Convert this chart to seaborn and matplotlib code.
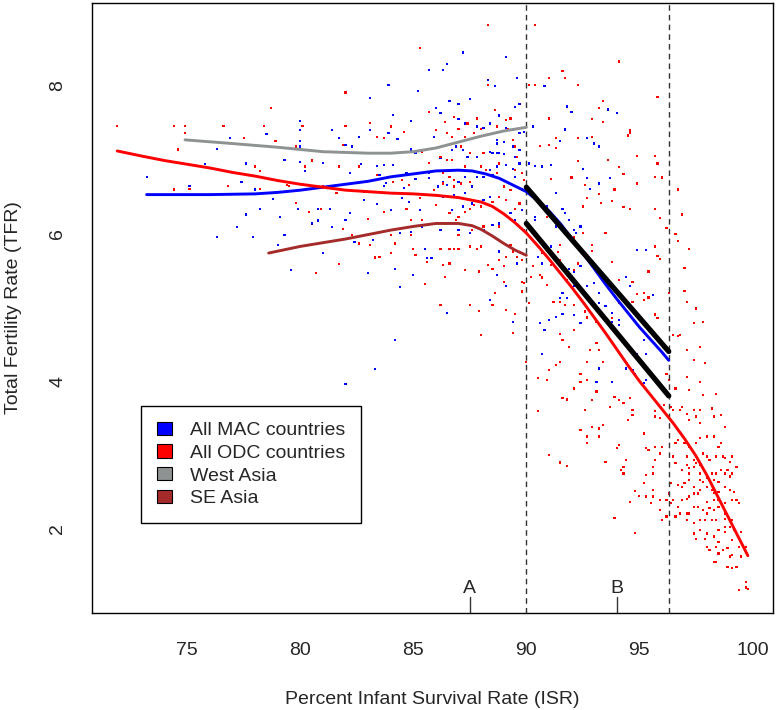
import pandas as pd
import matplotlib
matplotlib.use("Agg")
import matplotlib.pyplot as plt
from matplotlib.patches import Patch
import seaborn as sns

sns.set_style("white")
plt.rcParams['font.family'] = ['Liberation Sans', 'DejaVu Sans']

mac_points = [
    (73.2, 6.76), (75.1, 6.64), (75.8, 6.93), (76.3, 7.14), (76.3, 5.95), (76.9, 7.29), (77.2, 6.08),
    (77.4, 6.69), (77.6, 6.94), (77.6, 6.25), (77.9, 5.95), (78.0, 6.59), (78.2, 6.33), (78.5, 7.34),
    (78.8, 6.46), (79.0, 5.84), (79.1, 6.22), (79.3, 6.99), (79.3, 5.97), (79.6, 5.50), (79.9, 6.33),
    (80.0, 7.52), (80.0, 7.39), (80.0, 7.24), (80.0, 7.17), (80.0, 6.96), (80.2, 6.84), (80.5, 6.13),
    (80.8, 6.33), (80.8, 6.17), (81.0, 5.73), (81.0, 6.95), (81.3, 6.33), (81.4, 7.39), (81.4, 6.08),
    (81.7, 7.29), (82.0, 7.19), (82.0, 6.18), (82.2, 6.81), (82.2, 6.27), (82.3, 7.17), (82.4, 5.88),
    (82.6, 7.30), (82.7, 6.93), (82.8, 6.45), (83.0, 5.46), (83.1, 7.83), (83.1, 7.39), (83.2, 5.91),
    (83.4, 6.91), (83.4, 6.39), (83.5, 6.78), (83.7, 6.92), (83.7, 6.64), (83.8, 6.68), (83.9, 8.00),
    (83.9, 7.35), (84.0, 6.31), (84.1, 7.60), (84.1, 6.92), (84.2, 5.51), (84.3, 7.27), (84.4, 5.27),
    (84.4, 6.00), (84.5, 6.47), (84.6, 6.61), (84.7, 6.81), (84.8, 6.42), (84.9, 7.51), (84.9, 7.13),
    (84.9, 6.02), (85.0, 5.43), (85.1, 6.73), (85.1, 7.08), (85.2, 7.92), (85.3, 6.31), (85.4, 6.09),
    (85.5, 5.79), (85.6, 5.66), (85.7, 6.81), (85.7, 8.20), (85.7, 6.74), (85.8, 5.66), (85.9, 7.30),
    (86.0, 7.69), (86.1, 6.63), (82.0, 3.96), (83.3, 4.16), (84.2, 4.55),
    (86.3, 8.20), (86.5, 8.28), (87.2, 8.44), (89.1, 8.38), (88.3, 8.07), (88.6, 7.99), (89.6, 8.10),
    (89.7, 7.75), (89.5, 7.70), (87.5, 7.81), (87.0, 7.74), (86.6, 7.78), (86.2, 7.62), (86.8, 7.57),
    (87.0, 7.54), (87.3, 7.48), (87.8, 7.44), (88.1, 7.42), (88.4, 7.48), (88.8, 7.59), (89.1, 7.42),
    (89.4, 7.39), (89.7, 7.35), (89.9, 7.37), (88.7, 7.26), (88.7, 7.21), (89.0, 7.23), (89.4, 7.17),
    (89.7, 7.12), (89.5, 7.03), (89.7, 6.94), (88.5, 7.08), (88.7, 7.08), (88.8, 7.08), (89.0, 7.07),
    (88.4, 7.10), (88.1, 7.08), (87.8, 7.03), (87.4, 7.03), (87.2, 7.12), (86.9, 7.17), (86.7, 7.12),
    (86.5, 7.19), (86.2, 7.01), (86.3, 6.69), (86.5, 6.65), (86.8, 6.51), (87.0, 6.69), (87.3, 6.76),
    (87.8, 6.76), (88.1, 6.76), (88.4, 6.85), (88.7, 6.90), (89.1, 6.92), (89.4, 6.87), (89.5, 6.76),
    (89.8, 6.60), (89.9, 6.72), (88.5, 6.78), (87.6, 6.63), (87.3, 6.54), (86.3, 6.49), (86.6, 6.27),
    (86.2, 6.04), (87.0, 6.04), (87.5, 6.00), (88.1, 6.04), (88.5, 6.11), (88.8, 6.13), (89.3, 6.27),
    (89.5, 6.18), (89.8, 6.31), (89.9, 6.04), (86.5, 4.92), (88.7, 5.43), (89.1, 5.28), (88.4, 5.10),
    (89.4, 4.80), (89.6, 5.59), (88.8, 5.75), (86.7, 6.31), (87.2, 6.36), (87.6, 6.40), (88.1, 6.45),
    (88.4, 6.49),
    (90.3, 7.44), (90.8, 7.99), (90.1, 6.94), (90.4, 6.91), (90.7, 6.90), (91.1, 6.92), (91.5, 7.25),
    (91.7, 7.40), (91.8, 7.71), (92.0, 7.64), (92.5, 6.87), (92.7, 6.74), (92.8, 6.60), (93.2, 6.67),
    (93.6, 7.67), (94.0, 7.62), (93.7, 6.74), (93.2, 7.17), (93.0, 7.21), (92.7, 7.28), (90.4, 6.22),
    (90.4, 6.18), (90.9, 6.36), (91.3, 6.54), (91.6, 6.33), (91.7, 6.27), (91.9, 6.18), (92.1, 6.04),
    (92.2, 6.00), (92.4, 6.09), (91.3, 6.09), (90.5, 5.68), (90.7, 5.59), (91.3, 5.64), (91.5, 5.55),
    (91.9, 5.52), (92.1, 5.48), (92.4, 5.55), (92.7, 5.28), (93.0, 5.32), (93.2, 5.19), (93.5, 5.01),
    (93.8, 4.92), (94.1, 4.82), (94.4, 5.41), (94.6, 5.28), (94.9, 5.77), (95.3, 5.77), (95.6, 5.16),
    (94.7, 4.98), (93.2, 5.05), (92.6, 5.19), (92.1, 5.28), (91.6, 5.19), (91.0, 4.82), (90.6, 4.78),
    (91.3, 4.87), (91.6, 4.91), (92.4, 4.78), (93.8, 4.80), (94.1, 4.76), (91.1, 5.82), (92.1, 4.89),
    (91.8, 5.12), (91.5, 5.12),
    (90.7, 4.37), (93.2, 4.17), (93.1, 3.99), (93.8, 3.99), (95.2, 4.55), (95.3, 4.37), (94.4, 4.17),
    (94.7, 4.15), (94.8, 4.10), (95.2, 3.97), (95.3, 4.01), (94.9, 4.37), (95.0, 4.28), (90.8, 4.69),
]

odc_points = [
    (71.9, 7.45), (74.4, 7.45), (74.9, 7.45), (74.9, 7.35), (74.6, 7.13), (76.6, 7.45), (77.5, 7.29),
    (78.4, 7.45), (78.7, 7.69), (78.9, 7.24), (74.4, 6.59), (75.1, 6.60), (76.8, 6.64), (78.0, 6.90),
    (78.2, 6.84), (78.2, 6.60), (79.5, 6.64), (79.8, 6.41), (79.8, 7.17), (80.1, 7.45), (80.2, 6.90),
    (80.5, 6.98), (80.4, 6.29), (80.7, 5.46), (80.9, 6.33), (81.6, 6.54), (81.7, 5.58), (82.0, 7.45),
    (82.0, 7.90), (81.9, 7.19), (81.9, 6.05), (82.3, 5.97), (82.6, 5.86), (82.6, 6.90), (82.8, 6.56),
    (83.0, 6.19), (83.1, 7.49), (83.1, 5.84), (83.3, 5.67), (83.4, 7.30), (83.4, 6.78), (83.5, 5.68),
    (83.7, 7.28), (83.7, 6.29), (84.0, 5.73), (84.0, 5.97), (84.0, 7.44), (84.1, 6.69), (84.2, 5.86),
    (84.5, 6.72), (84.6, 7.37), (84.7, 6.33), (84.8, 6.65), (84.9, 6.18), (84.9, 5.97), (85.0, 5.79),
    (85.1, 5.70), (85.3, 6.47), (85.4, 6.81), (85.4, 7.10), (85.5, 5.31), (85.6, 5.61), (85.7, 7.64),
    (85.7, 6.95), (85.9, 6.58), (86.0, 6.38), (86.0, 7.39), (85.4, 6.18), (85.3, 8.50), (81.7, 6.90),
    (81.0, 6.63), (79.4, 6.65),
    (86.4, 7.50), (86.5, 7.35), (86.7, 7.30), (86.8, 7.57), (87.0, 7.41), (87.3, 7.30), (87.4, 7.48),
    (87.7, 7.35), (87.8, 7.55), (88.0, 7.41), (88.3, 8.00), (88.6, 7.66), (88.7, 7.44), (89.1, 7.53),
    (89.2, 7.40), (89.3, 7.55), (89.4, 7.26), (89.5, 7.17), (89.6, 7.03), (89.8, 6.81), (89.9, 6.72),
    (89.5, 6.33), (89.1, 6.45), (88.8, 6.49), (88.5, 6.42), (88.0, 6.36), (87.7, 6.38), (87.5, 6.33),
    (87.3, 6.29), (87.0, 6.22), (86.9, 6.18), (86.6, 6.27), (86.3, 6.67), (86.2, 7.03), (86.5, 6.99),
    (86.7, 6.99), (87.1, 7.17), (88.0, 6.90), (88.2, 6.85), (88.7, 6.81), (89.3, 6.58), (89.0, 6.63),
    (88.8, 6.94), (89.5, 6.85), (89.7, 6.40), (88.1, 7.08), (87.5, 7.08), (87.3, 6.90), (87.5, 6.69),
    (87.1, 6.67), (86.8, 6.63), (86.6, 6.76), (86.8, 6.72), (86.3, 6.81), (86.2, 5.79), (86.6, 5.79),
    (86.8, 5.79), (87.0, 5.78), (87.5, 5.82), (87.8, 5.79), (88.0, 5.82), (86.3, 5.57), (86.6, 5.59),
    (87.3, 5.50), (87.9, 5.48), (88.3, 5.57), (88.5, 5.52), (89.0, 5.55), (89.1, 5.68), (89.4, 5.75),
    (89.6, 5.68), (89.8, 5.64), (89.8, 5.34), (89.9, 5.32), (89.8, 5.21), (89.5, 4.91), (89.1, 4.96),
    (88.5, 5.03), (87.9, 4.95), (87.5, 5.03), (86.2, 5.03), (86.4, 5.41), (88.6, 5.19), (89.0, 5.34),
    (88.8, 5.64), (89.3, 5.84), (88.8, 6.09), (88.1, 6.09), (87.6, 6.04), (87.0, 5.97),
    (88.0, 4.62), (89.4, 4.65),
    (88.3, 8.81), (90.4, 8.81), (94.1, 8.32), (91.6, 8.19), (91.7, 8.10), (91.0, 8.10), (90.1, 8.00),
    (90.4, 8.00), (92.3, 8.00), (95.8, 7.84), (93.4, 7.79), (93.2, 7.69), (92.9, 7.54), (93.4, 7.50),
    (94.6, 7.39), (94.6, 7.36), (94.5, 7.32), (92.9, 7.30), (92.3, 7.29), (91.3, 7.29), (91.0, 7.55),
    (91.0, 7.19), (90.6, 7.18), (91.3, 7.15), (94.9, 7.04), (95.7, 7.04), (95.8, 6.94), (92.3, 6.97),
    (93.6, 6.99), (94.3, 6.80), (95.7, 6.76), (96.0, 6.75), (94.1, 6.89), (92.0, 6.75), (91.1, 6.73),
    (92.6, 6.65), (93.9, 6.59), (94.9, 6.67), (93.2, 6.53), (92.7, 6.47), (92.5, 6.36), (93.3, 6.41),
    (93.8, 6.43), (94.6, 6.33), (94.3, 6.35), (95.7, 6.33), (95.9, 6.20), (96.7, 6.59), (96.9, 6.25),
    (96.2, 6.07), (96.6, 5.99), (96.7, 5.89), (97.2, 5.78), (97.0, 5.53), (97.0, 5.22), (97.1, 5.07),
    (97.5, 4.98), (97.8, 4.80), (97.4, 4.78), (96.3, 5.19), (95.9, 5.65), (95.8, 5.69), (95.7, 5.82),
    (95.4, 5.48), (95.2, 5.19), (94.9, 5.18), (94.7, 5.34), (94.1, 5.37), (93.8, 5.61), (93.5, 6.00),
    (92.9, 5.84), (92.9, 5.76), (92.5, 6.00), (92.1, 5.94), (91.5, 5.84), (91.4, 5.74), (91.5, 5.64),
    (92.3, 5.59), (92.1, 5.50), (91.8, 5.37), (91.5, 5.07), (91.7, 5.03), (92.1, 5.03), (92.6, 4.94),
    (92.7, 4.86), (93.1, 4.80), (93.8, 4.85), (94.1, 5.05), (94.7, 5.07), (95.2, 5.10), (95.4, 5.13),
    (95.7, 4.90), (95.8, 4.85), (91.1, 5.57), (90.9, 5.30), (90.7, 5.40), (90.6, 5.43), (90.3, 5.55),
    (90.1, 5.06), (90.2, 5.41), (90.7, 6.39), (90.9, 6.22), (90.7, 5.73), (91.2, 5.07),
    (90.0, 4.26), (90.5, 4.04), (91.5, 4.64), (92.1, 4.69), (91.6, 4.55), (91.9, 4.46), (91.5, 4.26),
    (91.3, 4.22), (91.0, 4.15), (90.9, 4.01), (90.5, 3.59), (91.6, 3.77), (91.8, 3.75), (92.4, 4.10),
    (92.7, 4.01), (92.1, 3.90), (92.4, 3.99), (92.7, 4.26), (92.8, 4.42), (93.1, 4.51), (93.2, 4.42),
    (93.4, 4.26), (93.1, 3.86), (92.9, 3.74), (92.6, 3.61), (92.4, 3.34), (92.7, 3.25), (92.9, 3.38),
    (93.2, 3.36), (93.4, 3.41), (92.7, 3.16), (93.2, 3.25), (93.7, 3.65), (93.9, 3.79), (94.1, 3.74),
    (94.3, 3.70), (94.6, 3.77), (94.7, 3.61), (94.7, 3.54), (94.5, 3.47), (94.1, 3.14), (94.0, 3.09),
    (94.4, 2.93), (94.3, 2.84), (94.2, 2.80), (94.3, 2.75), (93.5, 2.91), (93.9, 2.15), (94.8, 1.95),
    (94.6, 2.36), (94.8, 2.51), (95.0, 2.45), (95.3, 2.44), (95.6, 2.44), (95.9, 2.26), (95.9, 2.39),
    (95.6, 2.53), (95.3, 2.73), (95.6, 2.75), (95.6, 2.84), (95.7, 2.93), (95.9, 3.02), (96.0, 3.11),
    (95.7, 3.11), (95.4, 3.07), (95.3, 3.09), (95.2, 3.29), (95.7, 3.52), (95.7, 3.59), (95.9, 3.50),
    (96.1, 3.68), (96.3, 4.01), (96.2, 4.10), (96.6, 3.90), (96.7, 4.61), (96.8, 4.62), (96.5, 4.62),
    (97.1, 4.42), (97.4, 4.28), (97.1, 4.06), (97.2, 3.88), (97.4, 3.61), (97.7, 3.61), (97.8, 3.81),
    (97.7, 3.99), (97.9, 4.24), (97.7, 4.46), (98.4, 3.83), (98.2, 3.63), (98.3, 3.52), (98.6, 3.54),
    (98.8, 3.38), (98.6, 3.16), (98.5, 3.11), (98.3, 3.25), (98.0, 3.25), (97.7, 3.23), (97.5, 3.16),
    (97.2, 3.11), (97.0, 3.16), (96.6, 3.16), (96.7, 3.20), (96.4, 3.65), (96.5, 3.61), (96.8, 3.61),
    (96.9, 3.65), (97.1, 3.56), (97.2, 3.47), (97.5, 3.52), (97.7, 3.43), (97.8, 3.02), (98.0, 2.98),
    (98.1, 2.93), (98.4, 2.98), (98.7, 2.98), (98.8, 2.96), (99.0, 2.91), (99.1, 2.98), (99.3, 2.84),
    (99.0, 2.71), (98.8, 2.75), (98.4, 2.75), (98.2, 2.75), (98.0, 2.69), (97.7, 2.75), (97.4, 2.84),
    (97.2, 2.82), (97.1, 2.87), (96.9, 2.80), (96.6, 2.89), (96.5, 2.98), (96.4, 2.62), (96.7, 2.60),
    (97.0, 2.62), (97.2, 2.66), (97.4, 2.57), (97.4, 2.48), (97.6, 2.48), (97.7, 2.53), (98.0, 2.57),
    (98.2, 2.53), (98.3, 2.49), (98.5, 2.50), (98.8, 2.57), (99.0, 2.53), (99.3, 2.39), (99.1, 2.39),
    (98.8, 2.35), (98.5, 2.30), (98.3, 2.26), (98.1, 2.28), (98.0, 2.21), (97.8, 2.26), (97.6, 2.30),
    (97.4, 2.30), (97.2, 2.21), (97.1, 2.21), (96.8, 2.21), (96.7, 2.30), (96.5, 2.39), (96.4, 2.35),
    (96.2, 2.39), (96.3, 2.48), (96.2, 2.17), (96.9, 2.39), (97.1, 2.12), (97.4, 2.08), (97.7, 1.99),
    (98.0, 1.94), (98.3, 1.90), (98.5, 1.99), (98.8, 2.03), (99.0, 2.03), (99.2, 1.99), (99.5, 1.96),
    (97.4, 1.94), (97.5, 1.87), (98.0, 1.76), (98.1, 1.72), (98.3, 1.55), (98.4, 1.55), (98.5, 1.67),
    (98.7, 1.72), (98.9, 1.74), (99.0, 1.63), (99.1, 1.65), (98.9, 1.49), (99.1, 1.47), (99.3, 1.49),
    (99.5, 1.63), (99.4, 1.76), (99.7, 1.76), (99.4, 1.18), (99.7, 1.21), (99.8, 1.19), (99.7, 1.28),
    (96.0, 2.12), (96.6, 2.17), (98.8, 2.14), (99.1, 2.12), (98.0, 2.37), (98.4, 2.12), (98.2, 2.12),
    (97.9, 2.12), (97.7, 2.12), (97.2, 2.44), (97.1, 2.41), (96.9, 2.57), (97.1, 2.98), (97.4, 2.93),
    (97.5, 2.89), (97.7, 2.87), (97.7, 2.66), (97.8, 2.64), (97.2, 2.75), (98.3, 2.66), (98.5, 2.64),
    (98.6, 2.80), (98.9, 2.80), (99.1, 2.75), (99.2, 2.50), (99.4, 2.35), (98.3, 2.39), (98.5, 2.39),
    (98.8, 2.21), (98.8, 1.96), (99.1, 1.85), (98.5, 1.83), (98.4, 1.76), (97.9, 1.87),
    (91.0, 3.00), (91.5, 2.90), (91.8, 2.85), (95.2, 2.62), (95.5, 2.35),
]

# smoothed trend curves
mac_curve_isr = [73.2, 74, 76, 78, 79, 80, 81, 82, 83, 84, 85, 86, 87, 87.6, 88.2, 88.8, 89.4, 90,
                 90.5, 91, 91.5, 92, 92.5, 93, 93.5, 94, 94.5, 95, 95.5, 96, 96.3]
mac_curve_tfr = [6.52, 6.52, 6.52, 6.53, 6.55, 6.58, 6.62, 6.66, 6.70, 6.76, 6.80, 6.84, 6.85, 6.84,
                 6.80, 6.74, 6.65, 6.56, 6.44, 6.30, 6.13, 5.93, 5.73, 5.52, 5.31, 5.11, 4.92, 4.73,
                 4.56, 4.39, 4.28]
odc_curve_isr = [71.9, 73, 74, 75, 76, 77, 78, 79, 80, 81, 82, 83, 84, 85, 86, 87, 87.5, 88, 88.5, 89,
                 89.5, 90, 90.5, 91, 91.5, 92, 92.5, 93, 93.5, 94, 94.5, 95, 95.5, 96, 96.5, 97, 97.5,
                 98, 98.5, 99, 99.5, 99.8]
odc_curve_tfr = [7.11, 7.04, 6.98, 6.93, 6.88, 6.82, 6.77, 6.71, 6.66, 6.62, 6.58, 6.56, 6.54, 6.53,
                 6.51, 6.48, 6.45, 6.42, 6.36, 6.26, 6.14, 6.00, 5.83, 5.65, 5.46, 5.27, 5.07, 4.86,
                 4.65, 4.43, 4.21, 4.00, 3.81, 3.62, 3.43, 3.22, 2.99, 2.72, 2.42, 2.12, 1.82, 1.64]
wasia_curve_isr = [74.9, 77, 79, 81, 83, 84, 85, 86, 87, 88, 89, 90]
wasia_curve_tfr = [7.26, 7.21, 7.16, 7.10, 7.08, 7.08, 7.10, 7.15, 7.23, 7.31, 7.38, 7.43]
seasia_curve_isr = [78.6, 80, 82, 84, 85, 86, 87, 87.6, 88, 88.5, 89, 89.5, 90]
seasia_curve_tfr = [5.73, 5.82, 5.92, 6.04, 6.09, 6.13, 6.13, 6.10, 6.05, 5.96, 5.86, 5.77, 5.70]

# linear fits over the transition window
fit_isr = [90.0, 96.3]
fit_mac_tfr = [6.62, 4.40]
fit_odc_tfr = [6.13, 3.80]

cutoffs = [90.0, 96.3]
marks = ["A", "B"]
mark_isr = [87.5, 94.0]

groups = ["All MAC countries", "All ODC countries", "West Asia", "SE Asia"]
colors = ["#0000FF", "#FF0000", "#8E9292", "#A52A2A"]

xticks = [75, 80, 85, 90, 95, 100]
yticks = [2, 4, 6, 8]

mac = pd.DataFrame(mac_points, columns=["isr", "tfr"])
mac["group"] = groups[0]
odc = pd.DataFrame(odc_points, columns=["isr", "tfr"])
odc["group"] = groups[1]
pts = pd.concat([mac, odc], ignore_index=True)

fig = plt.figure(figsize=(7.77, 7.10), dpi=100)
ax = fig.add_axes([0.118, 0.1366, 0.8765, 0.8592])

sns.scatterplot(data=pts, x="isr", y="tfr", hue="group", palette=dict(zip(groups[:2], colors[:2])),
                marker="s", s=2.5, linewidth=0, legend=False, ax=ax)

for cx in cutoffs:
    ax.axvline(cx, color="#333333", lw=1, ls=(0, (4, 3)), zorder=1)

sns.lineplot(x=wasia_curve_isr, y=wasia_curve_tfr, color=colors[2], lw=2.1, ax=ax)
sns.lineplot(x=seasia_curve_isr, y=seasia_curve_tfr, color=colors[3], lw=2.1, ax=ax)
sns.lineplot(x=mac_curve_isr, y=mac_curve_tfr, color=colors[0], lw=2.1, ax=ax)
sns.lineplot(x=odc_curve_isr, y=odc_curve_tfr, color=colors[1], lw=2.1, ax=ax)
sns.lineplot(x=fit_isr, y=fit_mac_tfr, color="black", lw=3.8, ax=ax)
sns.lineplot(x=fit_isr, y=fit_odc_tfr, color="black", lw=3.8, ax=ax)

# A / B markers on the bottom axis
tr = ax.get_xaxis_transform()
for lab, mx in zip(marks, mark_isr):
    ax.plot([mx, mx], [0, 0.026], transform=tr, color="#333333", lw=1, clip_on=False)
    ax.text(mx, 0.026, lab, transform=tr, ha="center", va="bottom", fontsize=14)

ax.set_xlim(70.77, 100.9)
ax.set_ylim(0.865, 9.11)
ax.set_xticks(xticks)
ax.set_yticks(yticks)
ax.tick_params(direction="out", length=8.6, width=1, color="#444444", labelsize=14)
ax.tick_params(axis="x", pad=12.5)
ax.tick_params(axis="y", pad=9.6, labelrotation=90)
for t in ax.get_yticklabels():
    t.set_va("center")

for sp in ax.spines.values():
    sp.set_color("black")
    sp.set_linewidth(1)

ax.set_xlabel("Percent Infant Survival Rate (ISR)", fontsize=14)
ax.set_ylabel("Total Fertility Rate (TFR)", fontsize=14)
ax.xaxis.set_label_coords(0.5, -0.128)
ax.yaxis.set_label_coords(-0.103, 0.5)

handles = [Patch(facecolor=c, edgecolor="black", lw=0.8) for c in colors]
ax.legend(handles, groups, loc="upper left", bbox_to_anchor=(0.073, 0.339), borderaxespad=0,
          fontsize=14, frameon=True, fancybox=False, edgecolor="black", framealpha=1,
          handlelength=0.77, handleheight=0.67, handletextpad=0.95, borderpad=0.8,
          labelspacing=0.27)
ax.get_legend().get_frame().set_linewidth(1)

fig.savefig("out.png", dpi=100)
